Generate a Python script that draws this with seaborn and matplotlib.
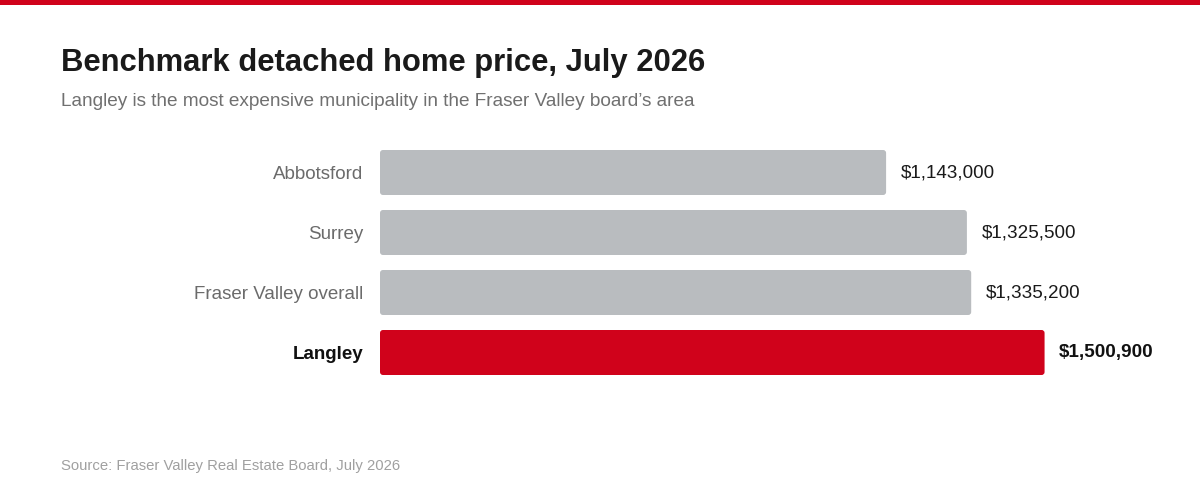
import matplotlib
matplotlib.use("Agg")
import matplotlib.pyplot as plt
from matplotlib.patches import FancyBboxPatch
import seaborn as sns
import pandas as pd

categories = ["Abbotsford", "Surrey", "Fraser Valley overall", "Langley"]
prices = [1143000, 1325500, 1335200, 1500900]
value_labels = ["$1,143,000", "$1,325,500", "$1,335,200", "$1,500,900"]
highlight = "Langley"

GRAY = "#b9bcbf"
RED = "#d0021b"

sns.set_theme(style="white")
plt.rcParams["font.family"] = ["Liberation Sans", "DejaVu Sans"]

df = pd.DataFrame({"category": categories, "price": prices})
palette = {c: (RED if c == highlight else GRAY) for c in categories}

fig = plt.figure(figsize=(12, 5), dpi=100)
fig.patch.set_facecolor("white")
ax = fig.add_axes([380 / 1200, 1 - 382.5 / 500, 797 / 1200, 240 / 500])

sns.barplot(data=df, y="category", x="price", hue="category", palette=palette,
            order=categories, width=0.75, ax=ax, legend=False, saturation=1)

ax.set_xlim(0, 1800000)
ax.set_ylim(3.5, -0.5)

# rounded corners
xpp = 1800000 / 797.0
ypp = 4.0 / 240.0
new_patches = []
for p in list(ax.patches):
    x0, y0, w, h = p.get_x(), p.get_y(), p.get_width(), p.get_height()
    fc = p.get_facecolor()
    fb = FancyBboxPatch((x0, y0), w, h,
                        boxstyle=f"round,pad=0,rounding_size={3 * xpp}",
                        mutation_aspect=ypp / xpp,
                        facecolor=fc, edgecolor="none", linewidth=0)
    p.set_visible(False)
    ax.add_patch(fb)
    new_patches.append((fb, x0 + w, y0 + h / 2))

for i, (fb, xe, yc) in enumerate(new_patches):
    bold = categories[i] == highlight
    ax.annotate(value_labels[i], xy=(xe, yc), xytext=(10.5, 0),
                textcoords="offset points", va="center", ha="left",
                fontsize=13.6, color="#1a1a1a" if not bold else "#111111",
                fontweight="bold" if bold else "normal")

ax.set_xlabel("")
ax.set_ylabel("")
ax.set_xticks([])
ax.tick_params(axis="y", length=0, pad=12, labelsize=13.5)
for lbl in ax.get_yticklabels():
    if lbl.get_text() == highlight:
        lbl.set_fontweight("bold")
        lbl.set_color("#111111")
    else:
        lbl.set_color("#6b6b6b")
for s in ax.spines.values():
    s.set_visible(False)

# top red stripe
fig.add_artist(plt.Rectangle((0, 1 - 5 / 500), 1, 5 / 500, transform=fig.transFigure,
                             facecolor=RED, edgecolor="none"))

fig.text(61 / 1200, 1 - 63 / 500, "Benchmark detached home price, July 2026",
         fontsize=22.35, fontweight="bold", color="#1a1a1a", va="center", ha="left")
fig.text(61 / 1200, 1 - 101 / 500,
         "Langley is the most expensive municipality in the Fraser Valley board\u2019s area",
         fontsize=13.7, color="#707070", va="center", ha="left")
fig.text(61 / 1200, 1 - 466 / 500, "Source: Fraser Valley Real Estate Board, July 2026",
         fontsize=10.7, color="#a0a0a0", va="center", ha="left")

fig.savefig("out.png", dpi=100, facecolor="white")
